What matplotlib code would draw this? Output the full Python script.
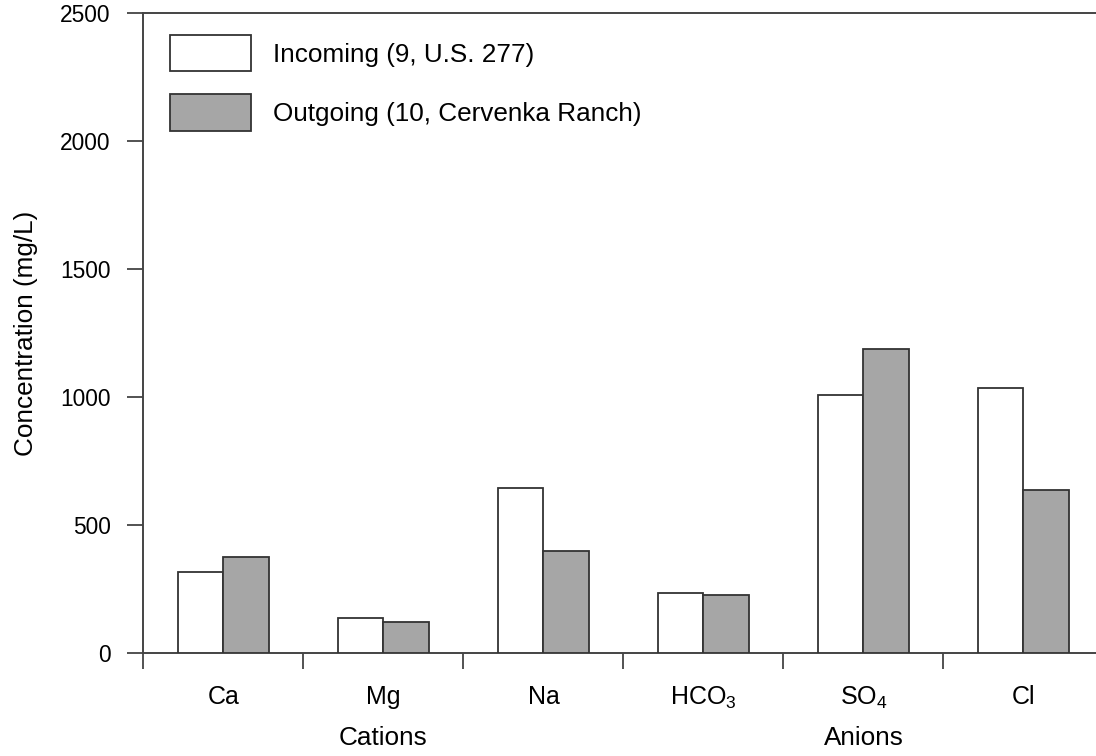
import matplotlib
matplotlib.use("Agg")
import matplotlib.pyplot as plt
from matplotlib.patches import Patch
import numpy as np

# ── Data ─────────────────────────────────────────────────────────────────────
ions = ["Ca", "Mg", "Na", "HCO$_3$", "SO$_4$", "Cl"]
incoming = [319, 140, 647, 237, 1009, 1038]
outgoing = [378, 122, 400, 227, 1189, 637]
series_labels = ["Incoming (9, U.S. 277)", "Outgoing (10, Cervenka Ranch)"]
groups = ["Cations", "Anions"]
group_pos = [1.5, 4.5]

# ── Style ────────────────────────────────────────────────────────────────────
LABEL_FS = 18.8
XTICK_FS = 18
YTICK_FS = 16.4
EDGE = "#333333"
AXIS = "#444444"
GRAY = "#A6A6A6"
plt.rcParams["font.family"] = ["Liberation Sans", "DejaVu Sans"]
plt.rcParams["mathtext.fontset"] = "custom"
plt.rcParams["mathtext.rm"] = "Liberation Sans"
plt.rcParams["mathtext.it"] = "Liberation Sans"

fig = plt.figure(figsize=(10.96, 7.56), dpi=100)
ax = fig.add_axes([0.1309, 0.1356, 0.8759, 0.8468])

centers = np.arange(len(ions)) + 0.5
w = 0.285
ax.bar(centers - w / 2, incoming, w, color="white", edgecolor=EDGE, lw=1.3,
       label=series_labels[0], zorder=3)
ax.bar(centers + w / 2, outgoing, w, color=GRAY, edgecolor=EDGE, lw=1.3,
       label=series_labels[1], zorder=3)

ax.set_xlim(0, 6)
ax.set_ylim(0, 2500)
ax.set_yticks([0, 500, 1000, 1500, 2000, 2500])

# group boundaries as major ticks, ion names on minor ticks
ax.set_xticks(np.arange(0, 7))
ax.set_xticklabels([])
ax.set_xticks(centers, minor=True)
ax.set_xticklabels(ions, minor=True, fontsize=XTICK_FS)
ax.tick_params(axis="x", which="major", direction="out", length=11.5,
               width=1.3, color=AXIS)
ax.tick_params(axis="x", which="minor", length=0, pad=22.5)
ax.tick_params(axis="y", direction="out", length=11.5, width=1.3,
               color=AXIS, labelsize=YTICK_FS, pad=12)

for side in ["left", "bottom", "top"]:
    ax.spines[side].set_color(AXIS)
    ax.spines[side].set_linewidth(1.4)
ax.spines["right"].set_visible(False)

ax.set_ylabel("Concentration (mg/L)", fontsize=LABEL_FS)
ax.yaxis.set_label_coords(-0.110, 0.5)

for name, pos in zip(groups, group_pos):
    ax.annotate(name, xy=(pos, 0), xycoords=("data", "axes fraction"),
                xytext=(0, -52), textcoords="offset points",
                ha="center", va="top", fontsize=LABEL_FS)

handles = [Patch(facecolor="white", edgecolor=EDGE, lw=1.3),
           Patch(facecolor=GRAY, edgecolor=EDGE, lw=1.3)]
fig.legend(handles, series_labels, loc="upper left",
           bbox_to_anchor=(170 / 1096, 1 - 35 / 756), frameon=False,
           fontsize=LABEL_FS, borderpad=0, borderaxespad=0,
           handlelength=3.1, handleheight=1.77, handletextpad=0.83,
           labelspacing=0.88)

fig.savefig("out.png", dpi=100)
